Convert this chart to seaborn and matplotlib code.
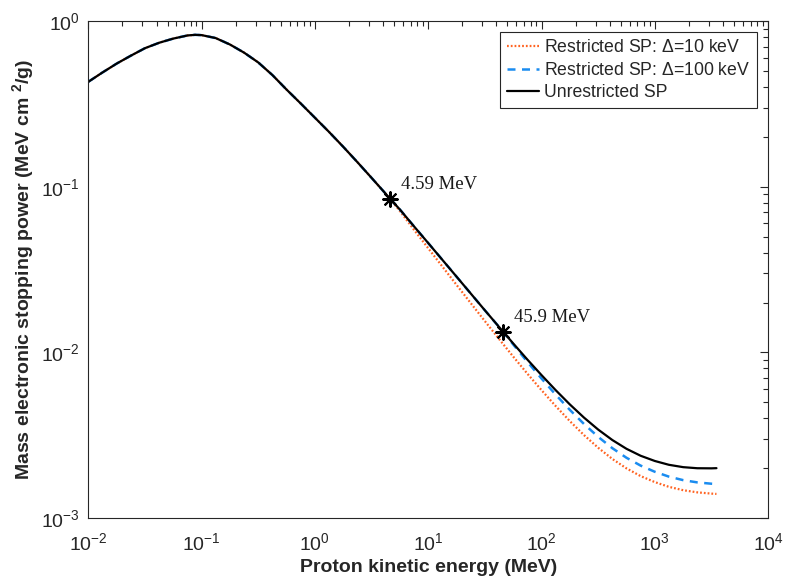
import matplotlib
matplotlib.use("Agg")
import matplotlib.pyplot as plt
from matplotlib.ticker import FixedLocator, FixedFormatter, NullFormatter
import seaborn as sns

# Proton kinetic energy grid (MeV)
energy_mev = [0.01, 0.0133, 0.0178, 0.0237, 0.0316, 0.0422, 0.0562, 0.075, 0.0875,
              0.1, 0.133, 0.178, 0.237, 0.316, 0.422, 0.562, 0.75, 1.0, 1.33, 1.78,
              2.37, 3.16, 4.22, 4.59, 5.62, 7.5, 10, 13.3, 17.8, 23.7, 31.6, 42.2,
              45.9, 56.2, 75, 100, 133, 178, 237, 316, 422, 562, 750, 1000, 1330,
              1780, 2370, 3160, 3500]

# Unrestricted mass electronic stopping power (MeV cm^2/g)
sp_unrestricted = [0.430, 0.489, 0.554, 0.618, 0.686, 0.740, 0.784, 0.819, 0.826,
                   0.823, 0.790, 0.722, 0.645, 0.563, 0.472, 0.386, 0.318, 0.261,
                   0.2145, 0.1741, 0.1408, 0.1132, 0.0906, 0.0848, 0.0729, 0.0576,
                   0.0457, 0.03627, 0.02863, 0.02269, 0.01796, 0.01424, 0.01331,
                   0.01133, 0.00905, 0.00729, 0.005925, 0.004848, 0.004039,
                   0.003421, 0.002956, 0.002618, 0.002376, 0.002210, 0.002096,
                   0.002028, 0.001998, 0.001995, 0.002000]

# Restricted stopping power, energy cut 10 keV
sp_restricted_10kev = [0.430, 0.489, 0.554, 0.618, 0.686, 0.740, 0.784, 0.819, 0.826,
                       0.823, 0.790, 0.722, 0.645, 0.563, 0.472, 0.386, 0.318, 0.261,
                       0.2145, 0.1741, 0.1408, 0.1132, 0.0906, 0.0848, 0.07144, 0.05492,
                       0.04253, 0.03304, 0.02554, 0.01986, 0.01545, 0.01205, 0.01121,
                       0.00944, 0.007437, 0.005916, 0.004750, 0.003843, 0.003168,
                       0.002657, 0.002273, 0.001994, 0.001791, 0.001648, 0.001543,
                       0.001472, 0.001429, 0.001404, 0.001398]

# Restricted stopping power, energy cut 100 keV
sp_restricted_100kev = [0.430, 0.489, 0.554, 0.618, 0.686, 0.740, 0.784, 0.819, 0.826,
                        0.823, 0.790, 0.722, 0.645, 0.563, 0.472, 0.386, 0.318, 0.261,
                        0.2145, 0.1741, 0.1408, 0.1132, 0.0906, 0.0848, 0.0729, 0.0576,
                        0.0457, 0.03627, 0.02863, 0.02269, 0.01796, 0.01424, 0.01329,
                        0.011168, 0.008768, 0.006953, 0.005568, 0.004494, 0.003696,
                        0.003093, 0.002640, 0.002311, 0.002072, 0.001902, 0.001778,
                        0.001693, 0.001641, 0.001611, 0.001604]

# Energies where the maximum energy transfer equals the cut
cut_energy_mev = [4.59, 45.9]
cut_sp = [0.0848, 0.01331]
cut_labels = ["4.59 MeV", "45.9 MeV"]

series_labels = ["Restricted SP: $\\Delta$=10 keV",
                 "Restricted SP: $\\Delta$=100 keV",
                 "Unrestricted SP"]
x_decades = [-2, -1, 0, 1, 2, 3, 4]
y_decades = [-3, -2, -1, 0]

sns.set_theme(style="white")
plt.rcParams["font.family"] = ["Liberation Sans", "DejaVu Sans"]
plt.rcParams["mathtext.fontset"] = "custom"
plt.rcParams["mathtext.rm"] = "Liberation Sans"
plt.rcParams["mathtext.it"] = "Liberation Sans:italic"
plt.rcParams["mathtext.bf"] = "Liberation Sans:bold"
plt.rcParams["mathtext.sf"] = "Liberation Sans"

axis_color = "#262626"
orange = "#FF6321"
blue = "#1A8CF0"

fig = plt.figure(figsize=(7.85, 5.86), dpi=100)
ax = fig.add_axes([0.1125, 0.116, 0.866, 0.848])

sns.lineplot(x=energy_mev, y=sp_restricted_10kev, ax=ax, color=orange,
             linestyle=(0, (0.8, 0.9)), linewidth=1.6, label=series_labels[0],
             sort=False, estimator=None)
sns.lineplot(x=energy_mev, y=sp_restricted_100kev, ax=ax, color=blue,
             linestyle=(0, (3.2, 2.6)), linewidth=1.8, label=series_labels[1],
             sort=False, estimator=None)
sns.lineplot(x=energy_mev, y=sp_unrestricted, ax=ax, color="black",
             linewidth=1.6, label=series_labels[2], sort=False, estimator=None)

sns.scatterplot(x=cut_energy_mev, y=cut_sp, ax=ax, marker=(8, 2, 0), s=110,
                color="black", edgecolor="black", linewidth=1.5, zorder=5,
                legend=False)
for e, s, txt in zip(cut_energy_mev, cut_sp, cut_labels):
    ax.annotate(txt, xy=(e, s), xytext=(8, 10.5), textcoords="offset points",
                ha="left", va="center", fontsize=13.5,
                family=["Liberation Serif", "DejaVu Serif"], color="#1a1a1a")

ax.set_xscale("log")
ax.set_yscale("log")
ax.set_xlim(10.0 ** x_decades[0], 10.0 ** x_decades[-1])
ax.set_ylim(10.0 ** y_decades[0], 10.0 ** y_decades[-1])

ax.xaxis.set_major_locator(FixedLocator([10.0 ** d for d in x_decades]))
ax.xaxis.set_major_formatter(FixedFormatter([f"$10^{{{d}}}$" for d in x_decades]))
ax.yaxis.set_major_locator(FixedLocator([10.0 ** d for d in y_decades]))
ax.yaxis.set_major_formatter(FixedFormatter([f"$10^{{{d}}}$" for d in y_decades]))
x_minor = [k * 10.0 ** d for d in x_decades[:-1] for k in range(2, 10)]
y_minor = [k * 10.0 ** d for d in y_decades[:-1] for k in range(2, 10)]
ax.xaxis.set_minor_locator(FixedLocator(x_minor))
ax.yaxis.set_minor_locator(FixedLocator(y_minor))
ax.xaxis.set_minor_formatter(NullFormatter())
ax.yaxis.set_minor_formatter(NullFormatter())

ax.tick_params(which="both", direction="in", top=True, right=True,
               color=axis_color, labelcolor=axis_color, width=0.8)
ax.tick_params(which="major", length=6, labelsize=14)
ax.tick_params(axis="x", which="major", pad=10)
ax.tick_params(axis="y", which="major", pad=6)
ax.tick_params(which="minor", length=3.5)
for sp in ax.spines.values():
    sp.set_color(axis_color)
    sp.set_linewidth(0.8)

ax.set_xlabel("Proton kinetic energy (MeV)", fontsize=14, fontweight="bold",
              color=axis_color, labelpad=4)
ax.set_ylabel("Mass electronic stopping power (MeV cm $^{\\mathbf{2}}$/g)",
              fontsize=14, fontweight="bold", color=axis_color, labelpad=4)

leg = ax.legend(loc="upper right", fontsize=12.7, frameon=True, fancybox=False,
                edgecolor=axis_color, framealpha=1, borderaxespad=0.62,
                handlelength=1.8, handletextpad=0.3, labelspacing=0.32,
                borderpad=0.4)
leg.get_frame().set_linewidth(0.8)

fig.savefig("out.png", dpi=100, facecolor="white")
